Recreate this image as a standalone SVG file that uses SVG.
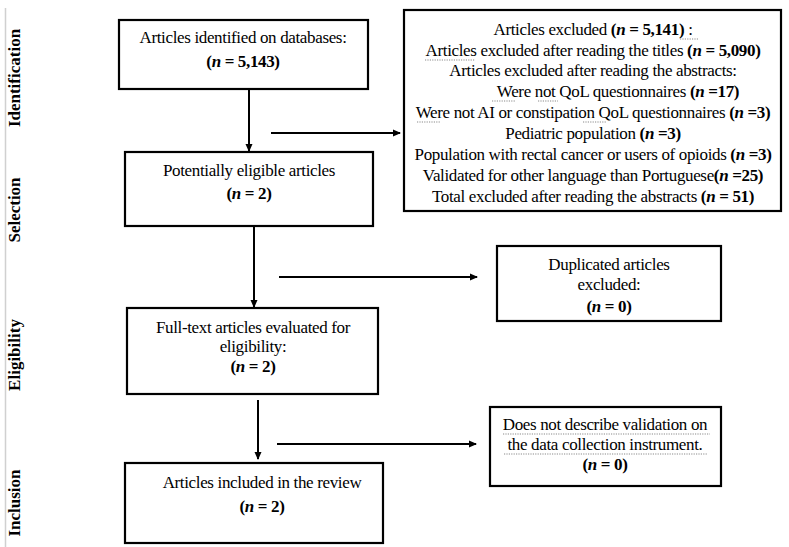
<svg xmlns="http://www.w3.org/2000/svg" width="789" height="547" viewBox="0 0 789 547">
<style>
.box{fill:#fff;stroke:#000;stroke-width:2.2}
.t{font-family:"Liberation Serif","Times New Roman",serif;font-size:17px;letter-spacing:-0.35px;fill:#000;text-anchor:middle}
.b{font-weight:bold}
.i{font-style:italic}
.side{font-family:"Liberation Serif","Times New Roman",serif;font-size:17px;font-weight:bold;fill:#000;text-anchor:middle}
.c{stroke:#000;stroke-width:2;fill:none}
.sq{stroke:#8a8a8a;stroke-width:1.2;stroke-dasharray:1.2 1.2;fill:none}
</style>
<defs>
<marker id="ah" markerWidth="8" markerHeight="8" refX="7" refY="4" orient="auto" markerUnits="userSpaceOnUse">
<path d="M0,0.5 L8,4 L0,7.5 Z" fill="#000"/>
</marker>
</defs>
<rect width="789" height="547" fill="#fff"/>
<line x1="5.5" y1="8" x2="5.5" y2="547" stroke="#d0d0d0" stroke-width="1.5"/>
<g id="side-labels">
<text class="side" transform="translate(20,78) rotate(-90)">Identification</text>
<text class="side" transform="translate(20,210) rotate(-90)">Selection</text>
<text class="side" transform="translate(20,355) rotate(-90)">Eligibility</text>
<text class="side" transform="translate(20,503) rotate(-90)">Inclusion</text>
</g>
<g id="connectors">
<line class="c" x1="249" y1="89" x2="249" y2="151" marker-end="url(#ah)"/>
<line class="c" x1="271" y1="133" x2="400" y2="133" marker-end="url(#ah)"/>
<line class="c" x1="254" y1="226" x2="254" y2="307" marker-end="url(#ah)"/>
<line class="c" x1="279" y1="277" x2="477" y2="277" marker-end="url(#ah)"/>
<line class="c" x1="258" y1="400" x2="258" y2="459" marker-end="url(#ah)"/>
<line class="c" x1="277" y1="444" x2="476" y2="444" marker-end="url(#ah)"/>
</g>
<g id="identified">
<rect class="box" x="119" y="20" width="249" height="69"/>
<text class="t" x="243" y="43">Articles identified on databases:</text>
<text class="t b" x="243" y="67">(<tspan class="i">n</tspan> = 5,143)</text>
</g>
<g id="excluded">
<rect class="box" x="404" y="10" width="377" height="201" stroke-width="3"/>
<text class="t" x="593" y="35">Articles excluded <tspan class="b">(<tspan class="i">n</tspan> = 5,141)</tspan> :</text>
<text class="t" x="593" y="56">Articles excluded after reading the titles <tspan class="b">(<tspan class="i">n</tspan> = 5,090)</tspan></text>
<text class="t" x="593" y="76">Articles excluded after reading the abstracts:</text>
<text class="t" x="618" y="97">Were not QoL questionnaires <tspan class="b">(<tspan class="i">n</tspan> =17)</tspan></text>
<text class="t" x="593" y="118">Were not AI or constipation QoL questionnaires <tspan class="b">(<tspan class="i">n</tspan> =3)</tspan></text>
<text class="t" x="593" y="139">Pediatric population <tspan class="b">(<tspan class="i">n</tspan> =3)</tspan></text>
<text class="t" x="593" y="160">Population with rectal cancer or users of opioids <tspan class="b">(<tspan class="i">n</tspan> =3)</tspan></text>
<text class="t" x="593" y="181">Validated for other language than Portuguese<tspan class="b">(<tspan class="i">n</tspan> =25)</tspan></text>
<text class="t" x="593" y="202">Total excluded after reading the abstracts <tspan class="b">(<tspan class="i">n</tspan> = 51)</tspan></text>
<path class="sq" d="M680,39 H698 M425,60 H475 M492,101 H515 M538,101 H558 M417,122 H440 M583,122 H607"/>
</g>
<g id="eligible">
<rect class="box" x="125" y="152" width="248" height="74"/>
<text class="t" x="249" y="176">Potentially eligible articles</text>
<text class="t b" x="249" y="199">(<tspan class="i">n</tspan> = 2)</text>
</g>
<g id="duplicated">
<rect class="box" x="497" y="246" width="224" height="75"/>
<text class="t" x="609" y="270">Duplicated articles</text>
<text class="t" x="609" y="290">excluded:</text>
<text class="t b" x="609" y="312">(<tspan class="i">n</tspan> = 0)</text>
</g>
<g id="fulltext">
<rect class="box" x="127" y="308" width="251" height="86"/>
<text class="t" x="253" y="333">Full-text articles evaluated for</text>
<text class="t" x="253" y="352">eligibility:</text>
<text class="t b" x="253" y="372">(<tspan class="i">n</tspan> = 2)</text>
</g>
<g id="novalidation">
<rect class="box" x="490" y="407" width="231" height="79"/>
<text class="t" x="605" y="430">Does not describe validation on</text>
<text class="t" x="605" y="450">the data collection instrument.</text>
<text class="t b" x="605" y="470">(<tspan class="i">n</tspan> = 0)</text>
<path class="sq" d="M503,434 H710 M504,454 H707"/>
</g>
<g id="included">
<rect class="box" x="125" y="463" width="258" height="80"/>
<text class="t" x="262" y="488">Articles included in the review</text>
<text class="t b" x="262" y="512">(<tspan class="i">n</tspan> = 2)</text>
</g>
</svg>
